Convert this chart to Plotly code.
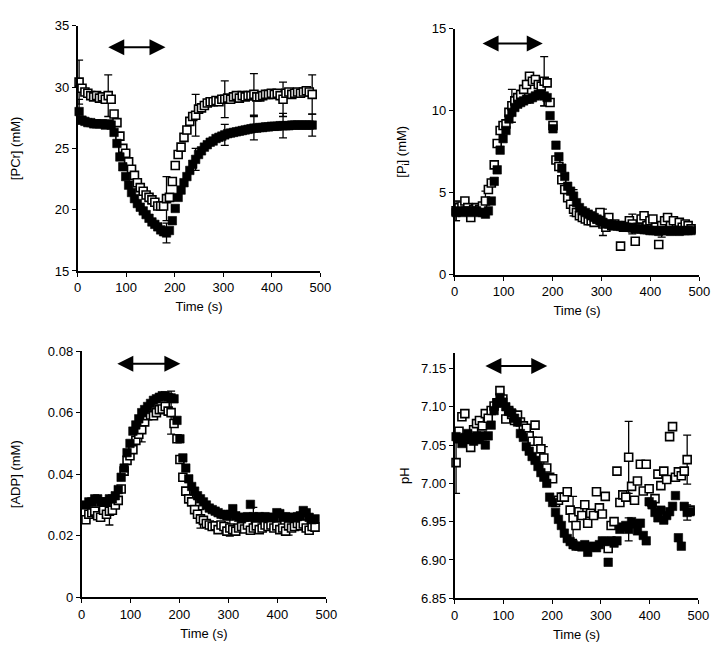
import plotly.graph_objects as go

# ---------------- data ----------------
t_a = list(range(3, 484, 6))          # panels PCr, Pi, pH
t_adp = list(range(9, 478, 6))        # panel ADP

pcr_open = [30.4, 29.9, 29.6, 29.5, 29.3, 29.2, 29.3, 29.1, 29.2, 29.0, 29.3, 29.0, 27.8, 27.1, 26.0, 25.0,
            24.6, 23.9, 23.3, 22.8, 22.2, 21.8, 21.5, 21.2, 21.0, 20.8, 20.6, 20.3, 20.3, 20.3, 20.9, 21.0,
            22.3, 23.6, 24.5, 25.1, 25.9, 26.5, 27.2, 27.6, 27.7, 28.2, 28.3, 28.5, 28.7, 28.8, 28.8, 28.9,
            28.8, 29.0, 29.0, 29.1, 29.0, 29.2, 29.3, 29.1, 29.3, 29.2, 29.3, 29.3, 29.4, 29.2, 29.2, 29.3,
            29.4, 29.4, 29.5, 29.4, 29.5, 29.3, 29.0, 29.5, 29.6, 29.4, 29.5, 29.6, 29.5, 29.6, 29.7, 29.6, 29.4]
pcr_filled = [28.0, 27.3, 27.2, 27.1, 27.1, 27.0, 27.0, 27.0, 27.0, 26.9, 27.0, 26.9, 26.3, 25.4, 24.3, 23.5,
              22.7, 22.0, 21.4, 20.9, 20.5, 20.2, 19.9, 19.6, 19.3, 19.0, 18.8, 18.6, 18.35, 18.2, 18.1, 18.3,
              19.1, 20.1, 21.0, 21.6, 22.2, 22.7, 23.2, 23.7, 24.1, 24.5, 24.8, 25.1, 25.3, 25.5, 25.6, 25.8,
              25.9, 26.0, 26.1, 26.2, 26.25, 26.3, 26.35, 26.4, 26.45, 26.5, 26.55, 26.6, 26.65, 26.65, 26.7, 26.7,
              26.75, 26.75, 26.8, 26.8, 26.8, 26.85, 26.85, 26.85, 26.85, 26.9, 26.9, 26.9, 26.9, 26.9, 26.9, 26.9, 26.9]

pi_open = [3.9, 4.1, 4.2, 4.5, 4.1, 3.5, 4.0, 4.1, 4.0, 4.2, 4.5, 5.2, 5.6, 6.7, 8.0, 8.8,
           9.1, 9.2, 9.9, 10.3, 10.6, 10.8, 11.0, 11.3, 11.6, 12.1, 11.8, 11.9, 11.6, 11.5, 11.8, 11.7,
           10.5, 9.1, 7.0, 6.6, 5.8, 5.2, 4.7, 4.3, 4.0, 3.8, 3.6, 3.5, 3.4, 3.3, 3.3, 3.2,
           3.4, 3.8, 3.1, 2.9, 3.5, 3.0, 3.1, 3.0, 1.75, 2.9, 3.0, 3.3, 3.1, 2.05, 2.9, 3.4,
           3.6, 3.0, 3.3, 3.4, 2.9, 1.85, 3.0, 3.3, 3.5, 3.0, 3.3, 2.8, 3.2, 2.9, 3.1, 3.0, 2.8]
pi_filled = [3.8, 3.9, 3.8, 3.9, 3.9, 3.8, 3.9, 3.9, 3.8, 3.8, 3.7, 3.9, 4.5, 5.7, 6.4, 7.6,
             8.3, 8.8, 9.5, 9.9, 10.2, 10.4, 10.5, 10.6, 10.7, 10.7, 10.8, 10.9, 11.0, 11.0, 10.9, 10.8,
             9.7, 8.9, 7.9, 7.2, 6.5, 6.0, 5.4, 5.1, 4.8, 4.4, 4.1, 3.9, 3.8, 3.7, 3.6, 3.5,
             3.4, 3.3, 3.2, 3.1, 3.1, 3.05, 3.0, 3.0, 2.95, 2.95, 2.9, 2.9, 2.85, 2.8, 2.8, 2.8,
             2.75, 2.75, 2.7, 2.7, 2.7, 2.65, 2.7, 2.7, 2.7, 2.65, 2.7, 2.7, 2.65, 2.7, 2.7, 2.7, 2.7]

adp_open = [0.0252, 0.027, 0.0275, 0.028, 0.0265, 0.026, 0.0283, 0.027, 0.028, 0.0283, 0.030, 0.0315, 0.0352,
            0.041, 0.0445, 0.046, 0.048, 0.051, 0.053, 0.0545, 0.057, 0.059, 0.0592, 0.059, 0.060, 0.061,
            0.0612, 0.062, 0.0605, 0.060, 0.0565, 0.0515, 0.0448, 0.039, 0.0345, 0.032, 0.031, 0.0285, 0.027,
            0.0255, 0.025, 0.024, 0.0235, 0.023, 0.0232, 0.022, 0.0235, 0.023, 0.0215, 0.0225, 0.022, 0.0215,
            0.0225, 0.023, 0.0222, 0.0235, 0.0218, 0.0225, 0.0232, 0.022, 0.0225, 0.0235, 0.023, 0.0235, 0.0225,
            0.0232, 0.022, 0.0225, 0.0215, 0.0232, 0.0225, 0.023, 0.024, 0.0232, 0.0238, 0.0225, 0.0218, 0.023, 0.0228]
adp_filled = [0.030, 0.031, 0.031, 0.032, 0.032, 0.031, 0.031, 0.031, 0.032, 0.032, 0.033, 0.035, 0.039,
              0.042, 0.047, 0.050, 0.054, 0.056, 0.058, 0.060, 0.061, 0.062, 0.063, 0.064, 0.0645, 0.065,
              0.0655, 0.0655, 0.065, 0.0648, 0.0645, 0.0575, 0.0515, 0.0453, 0.042, 0.0385, 0.036, 0.0345, 0.033,
              0.032, 0.031, 0.030, 0.029, 0.0285, 0.028, 0.0275, 0.027, 0.0268, 0.0265, 0.027, 0.0288, 0.0265,
              0.026, 0.0255, 0.026, 0.0262, 0.0302, 0.0262, 0.026, 0.0262, 0.0258, 0.0262, 0.026, 0.0258, 0.026,
              0.0275, 0.0272, 0.026, 0.0262, 0.026, 0.0258, 0.026, 0.0262, 0.0265, 0.0282, 0.0275, 0.026, 0.0252, 0.0255]

ph_open = [7.027, 7.068, 7.087, 7.091, 7.058, 7.047, 7.070, 7.078, 7.082, 7.075, 7.091, 7.085, 7.095, 7.101,
           7.105, 7.121, 7.110, 7.084, 7.095, 7.090, 7.082, 7.089, 7.080, 7.075, 7.072, 7.062, 7.055, 7.076,
           7.055, 7.045, 7.033, 7.020, 7.008, 7.006, 6.975, 6.978, 6.982, 6.982, 6.989, 6.965, 6.955, 6.945,
           6.963, 6.958, 6.972, 6.948, 6.961, 6.958, 6.989, 6.968, 6.960, 6.983, 6.915, 6.945, 6.950, 7.016,
           6.975, 6.985, 6.982, 7.034, 6.996, 6.978, 7.003, 7.025, 6.990, 7.025, 6.993, 6.975, 6.980, 7.012,
           6.997, 7.016, 7.005, 7.061, 7.074, 7.008, 7.015, 7.010, 7.016, 7.031, 6.965]
ph_filled = [7.061, 7.058, 7.052, 7.060, 7.065, 7.058, 7.055, 7.062, 7.057, 7.062, 7.050, 7.062, 7.076, 7.095,
             7.105, 7.112, 7.106, 7.100, 7.094, 7.092, 7.085, 7.080, 7.065, 7.060, 7.048, 7.042, 7.035, 7.030,
             7.022, 7.014, 7.008, 7.000, 6.982, 6.975, 6.962, 6.953, 6.945, 6.935, 6.928, 6.924, 6.920, 6.918,
             6.918, 6.917, 6.920, 6.910, 6.917, 6.918, 6.916, 6.920, 6.925, 6.924, 6.897, 6.925, 6.922, 6.925,
             6.940, 6.943, 6.945, 6.940, 6.950, 6.947, 6.938, 6.948, 6.932, 6.925, 6.976, 6.972, 6.962, 6.955,
             6.965, 6.952, 6.958, 6.963, 6.970, 6.984, 6.929, 6.918, 6.970, 6.962, 6.963]

# error bars (time of point, SEM)
pcr_open_err_t = [3, 63, 183, 243, 303, 363, 423, 483]
pcr_open_err = [1.8, 1.7, 1.8, 1.7, 1.5, 1.7, 1.4, 1.6]
pcr_filled_err_t = [3, 183, 243, 303, 363, 423, 483]
pcr_filled_err = [1.0, 0.8, 0.9, 0.85, 0.95, 1.0, 0.9]
pi_open_err_t = [3, 63, 117, 183, 243, 363]
pi_open_err = [0.6, 0.6, 1.0, 1.5, 0.4, 0.6]
pi_filled_err_t = [3, 183, 243, 303, 423]
pi_filled_err = [0.5, 0.6, 0.4, 0.8, 0.4]
adp_open_err_t = [57, 123, 183, 243, 303, 423]
adp_open_err = [0.0045, 0.004, 0.007, 0.003, 0.0026, 0.003]
adp_filled_err_t = [351]
adp_filled_err = [0.003]
ph_open_err_t = [3, 183, 243, 357, 477]
ph_open_err = [0.04, 0.015, 0.028, 0.047, 0.032]
ph_filled_err_t = [243, 357, 477]
ph_filled_err = [0.005, 0.015, 0.01]

exercise_start = [60, 54, 70, 60]
exercise_end = [181, 180, 202, 190]

# ---------------- figure ----------------
fig = go.Figure()

panels = [
    dict(ax="", t=t_a, o=pcr_open, f=pcr_filled, oe=(pcr_open_err_t, pcr_open_err),
         fe=(pcr_filled_err_t, pcr_filled_err), arrow_y=33.25),
    dict(ax="2", t=t_a, o=pi_open, f=pi_filled, oe=(pi_open_err_t, pi_open_err),
         fe=(pi_filled_err_t, pi_filled_err), arrow_y=14.1),
    dict(ax="3", t=t_adp, o=adp_open, f=adp_filled, oe=(adp_open_err_t, adp_open_err),
         fe=(adp_filled_err_t, adp_filled_err), arrow_y=0.0759),
    dict(ax="4", t=t_a, o=ph_open, f=ph_filled, oe=(ph_open_err_t, ph_open_err),
         fe=(ph_filled_err_t, ph_filled_err), arrow_y=7.153),
]

for i, p in enumerate(panels):
    xa, ya = "x" + p["ax"], "y" + p["ax"]
    for (et, ev), series in ((p["oe"], p["o"]), (p["fe"], p["f"])):
        ey = [series[p["t"].index(tt)] for tt in et]
        fig.add_trace(go.Scatter(
            x=et, y=ey, mode="markers", xaxis=xa, yaxis=ya, showlegend=False, cliponaxis=False,
            marker=dict(size=1, color="rgba(0,0,0,0)"),
            error_y=dict(type="data", array=ev, visible=True, color="black", thickness=1.3, width=4)))
    fig.add_trace(go.Scatter(
        x=p["t"], y=p["o"], mode="markers", xaxis=xa, yaxis=ya, showlegend=False, cliponaxis=False,
        marker=dict(symbol="square", size=8, color="white", line=dict(color="black", width=1.6))))
    fig.add_trace(go.Scatter(
        x=p["t"], y=p["f"], mode="markers", xaxis=xa, yaxis=ya, showlegend=False, cliponaxis=False,
        marker=dict(symbol="square", size=8.5, color="black", line=dict(color="black", width=0.6))))
    fig.add_annotation(x=exercise_end[i], y=p["arrow_y"], ax=exercise_start[i], ay=p["arrow_y"],
                       xref=xa, yref=ya, axref=xa, ayref=ya, text="", showarrow=True, arrowhead=2,
                       arrowside="end+start", arrowsize=1.6, arrowwidth=2, arrowcolor="black")

font = dict(family="Liberation Sans, Arial, sans-serif", size=13, color="black")
axis_common = dict(showline=True, linecolor="black", linewidth=1.5, ticks="outside", ticklen=4,
                   tickwidth=1.3, tickcolor="black", showgrid=False, zeroline=False,
                   tickfont=font, mirror=False)

fig.update_layout(
    width=720, height=654, margin=dict(l=0, r=0, t=0, b=0),
    paper_bgcolor="white", plot_bgcolor="white", font=font,
    xaxis=dict(domain=[0.0931, 0.4375], range=[0, 500], dtick=100, anchor="y",
               title=dict(text="Time (s)", standoff=8, font=font), **axis_common),
    yaxis=dict(domain=[0.5994, 0.9832], range=[15, 35], dtick=5, anchor="x",
               title=dict(text="[PCr] (mM)", standoff=32, font=font), **axis_common),
    xaxis2=dict(domain=[0.6278, 0.975], range=[0, 500], dtick=100, anchor="y2",
                title=dict(text="Time (s)", standoff=8, font=font), **axis_common),
    yaxis2=dict(domain=[0.5933, 0.9786], range=[0, 15], dtick=5, anchor="x2",
                title=dict(text="[P<sub>i</sub>] (mM)", standoff=22, font=font), **axis_common),
    xaxis3=dict(domain=[0.0986, 0.4458], range=[0, 500], dtick=100, anchor="y3",
                title=dict(text="Time (s)", standoff=8, font=font), **axis_common),
    yaxis3=dict(domain=[0.0887, 0.474], range=[0, 0.08], anchor="x3",
                tickvals=[0, 0.02, 0.04, 0.06, 0.08], ticktext=["0", "0.02", "0.04", "0.06", "0.08"],
                title=dict(text="[ADP] (mM)", standoff=24, font=font), **axis_common),
    xaxis4=dict(domain=[0.6278, 0.9736], range=[0, 500], dtick=100, anchor="y4",
                title=dict(text="Time (s)", standoff=8, font=font), **axis_common),
    yaxis4=dict(domain=[0.0872, 0.4709], range=[6.85, 7.17], anchor="x4",
                tickvals=[6.85, 6.90, 6.95, 7.00, 7.05, 7.10, 7.15],
                ticktext=["6.85", "6.90", "6.95", "7.00", "7.05", "7.10", "7.15"],
                title=dict(text="pH", standoff=8, font=font), **axis_common),
)

fig.write_html("out.html")
